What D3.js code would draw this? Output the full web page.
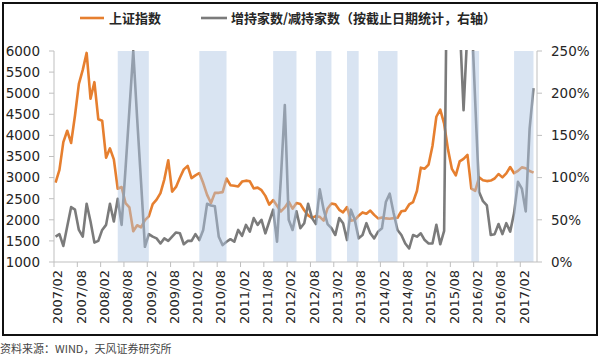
<!DOCTYPE html>
<html><head><meta charset="utf-8">
<script src="https://cdn.jsdelivr.net/npm/d3@7"></script>
<style>
html,body{margin:0;padding:0;background:#fff;}
svg{display:block;}
</style></head>
<body>
<svg id="chart" width="600" height="357"></svg>
<script>
// ---------- data ----------
const startYear = 2007, startMonth = 2, monthCount = 124; // 2007/02 .. 2017/05
const months = [];
for (let i = 0; i < monthCount; i++) {
  const t = (startMonth - 1) + i;
  const y = startYear + Math.floor(t / 12), mo = (t % 12) + 1;
  months.push(y + "/" + (mo < 10 ? "0" + mo : mo));
}
const shIndex = [
  2881,3184,3841,4110,3821,4471,5219,5552,5955,4872,5262,
  4383,4349,3473,3693,3433,2736,2776,2397,2294,1729,1871,1821,
  1991,2083,2373,2478,2633,2959,3412,2668,2779,2996,3195,3277,
  2989,3052,3109,2871,2592,2398,2638,2639,2656,2979,2820,2808,
  2791,2905,2928,2912,2743,2762,2702,2567,2359,2468,2333,2199,
  2293,2428,2263,2396,2372,2225,2104,2048,2086,2069,1980,2269,
  2385,2366,2237,2178,2301,1979,1994,2098,2175,2142,2220,2116,
  2033,2056,2033,2026,2039,2048,2202,2217,2364,2420,2683,3235,
  3210,3310,3748,4442,4612,4277,3664,3206,3053,3383,3445,3539,
  2738,2688,3004,2938,2917,2930,2979,3085,3005,3100,3250,3104,
  3159,3242,3223,3155,3117
];
const holdRatio = [
  30,33,19,42,65,62,38,30,69,48,
  23,25,38,44,69,48,75,44,110,180,
  250,170,95,18,33,30,28,22,28,25,
  30,35,34,21,25,25,33,26,38,69,
  67,66,30,20,24,27,24,38,31,44,
  36,52,44,50,34,48,62,24,100,186,
  50,38,60,40,46,69,52,45,86,62,
  45,40,32,52,46,26,62,50,28,32,
  46,34,28,36,40,71,81,58,38,32,
  22,16,32,30,34,26,22,22,44,21,
  37,470,560,420,285,180,275,300,190,83,
  72,67,32,33,45,33,46,36,58,95,
  87,60,158,206
];
const tickLabels = ["2007/02","2007/08","2008/02","2008/08","2009/02","2009/08","2010/02","2010/08",
  "2011/02","2011/08","2012/02","2012/08","2013/02","2013/08","2014/02","2014/08","2015/02","2015/08",
  "2016/02","2016/08","2017/02"];
const leftTicks = [1000,1500,2000,2500,3000,3500,4000,4500,5000,5500,6000];
const rightTicks = [0,50,100,150,200,250];
const bandStarts = ["2008/06","2010/03","2011/10","2012/09","2013/05","2014/01","2016/01","2016/12"];
const bandEnds   = ["2009/02","2010/10","2012/04","2013/01","2013/08","2014/06","2016/03","2017/05"];
const seriesNames = ["上证指数","增持家数/减持家数（按截止日期统计，右轴）"];
const sourceText = "资料来源：WIND，天风证券研究所";

// ---------- layout ----------
const svg = d3.select("#chart");
const L = 54, R = 537, T = 51, B = 262;
const x = d3.scaleLinear().domain([-0.4, 123.9]).range([L, R]);
const yL = d3.scaleLinear().domain([1000, 6000]).range([B, T]);
const yR = d3.scaleLinear().domain([0, 250]).range([B, T]);
const idx = m => months.indexOf(m);

const ORANGE = "#e67f2f", GREY = "#7b7b7b", AXIS = "#bfbfbf", TXT = "#262626";
const numFont = "'DejaVu Sans', sans-serif";
const cjkFont = "'Noto Sans CJK SC', sans-serif";

// frame
svg.append("rect").attr("x", 3).attr("y", 3).attr("width", 594).attr("height", 332)
  .attr("fill", "none").attr("stroke", "#111").attr("stroke-width", 2);

// clip
svg.append("defs").append("clipPath").attr("id", "plotclip")
  .append("rect").attr("x", L).attr("y", T - 1).attr("width", R - L).attr("height", B - T + 1);

const plot = svg.append("g").attr("clip-path", "url(#plotclip)");

// lines
const lineL = d3.line().x((d, i) => x(i)).y(d => yL(d));
const lineR = d3.line().x((d, i) => x(i)).y(d => yR(d));
plot.append("path").datum(shIndex).attr("d", lineL)
  .attr("fill", "none").attr("stroke", ORANGE).attr("stroke-width", 2.6).attr("stroke-linejoin", "round");
plot.append("path").datum(holdRatio).attr("d", lineR)
  .attr("fill", "none").attr("stroke", GREY).attr("stroke-width", 2.6).attr("stroke-linejoin", "round");

// shaded periods (semi transparent, on top)
plot.selectAll("rect.band").data(bandStarts.map((s, i) => [s, bandEnds[i]])).enter()
  .append("rect").attr("class", "band")
  .attr("x", d => x(idx(d[0])))
  .attr("width", d => x(idx(d[1])) - x(idx(d[0])))
  .attr("y", T).attr("height", B - T)
  .attr("fill", "rgb(176,198,228)").attr("opacity", 0.48);

// axes lines
svg.append("line").attr("x1", L).attr("x2", L).attr("y1", T).attr("y2", B).attr("stroke", AXIS).attr("stroke-width", 1);
svg.append("line").attr("x1", R).attr("x2", R).attr("y1", T).attr("y2", B).attr("stroke", AXIS).attr("stroke-width", 1);
svg.append("line").attr("x1", L).attr("x2", R).attr("y1", B).attr("y2", B).attr("stroke", AXIS).attr("stroke-width", 1);

// left ticks
const gl = svg.append("g");
gl.selectAll("line").data(leftTicks).enter().append("line")
  .attr("x1", L - 5).attr("x2", L).attr("y1", d => yL(d)).attr("y2", d => yL(d)).attr("stroke", AXIS);
gl.selectAll("text").data(leftTicks).enter().append("text")
  .attr("x", 40).attr("y", d => yL(d)).attr("dy", "0.36em").attr("text-anchor", "end")
  .attr("font-family", numFont).attr("font-size", 13.5).attr("fill", TXT).text(d => d);

// right ticks
const gr = svg.append("g");
gr.selectAll("line").data(rightTicks).enter().append("line")
  .attr("x1", R).attr("x2", R + 5).attr("y1", d => yR(d)).attr("y2", d => yR(d)).attr("stroke", AXIS);
gr.selectAll("text").data(rightTicks).enter().append("text")
  .attr("x", 551).attr("y", d => yR(d)).attr("dy", "0.36em").attr("text-anchor", "start")
  .attr("font-family", numFont).attr("font-size", 13.5).attr("fill", TXT).text(d => d + "%");

// bottom ticks and labels
const gb = svg.append("g");
gb.selectAll("line").data(tickLabels).enter().append("line")
  .attr("x1", d => x(idx(d) - 0.4)).attr("x2", d => x(idx(d) - 0.4))
  .attr("y1", B).attr("y2", B + 5).attr("stroke", AXIS);
gb.selectAll("text").data(tickLabels).enter().append("text")
  .attr("transform", d => `translate(${x(idx(d)) + 2},270) rotate(-90)`)
  .attr("dy", "0.36em").attr("text-anchor", "end")
  .attr("font-family", numFont).attr("font-size", 13).attr("fill", TXT).text(d => d);

// legend
const lg = svg.append("g");
lg.append("line").attr("x1", 80).attr("x2", 104).attr("y1", 18).attr("y2", 18).attr("stroke", ORANGE).attr("stroke-width", 2.6);
lg.append("text").attr("x", 109).attr("y", 18).attr("dy", "0.36em").attr("font-family", cjkFont)
  .attr("font-weight", "bold").attr("font-size", 13).attr("fill", TXT).text(seriesNames[0]);
lg.append("line").attr("x1", 201).attr("x2", 227).attr("y1", 18).attr("y2", 18).attr("stroke", GREY).attr("stroke-width", 2.6);
lg.append("text").attr("x", 231).attr("y", 18).attr("dy", "0.36em").attr("font-family", cjkFont)
  .attr("font-weight", "bold").attr("font-size", 13).attr("fill", TXT).text(seriesNames[1]);

// source
svg.append("text").attr("x", 0).attr("y", 353).attr("font-family", cjkFont)
  .attr("font-size", 11).attr("fill", "#444").text(sourceText);
</script>
</body></html>
